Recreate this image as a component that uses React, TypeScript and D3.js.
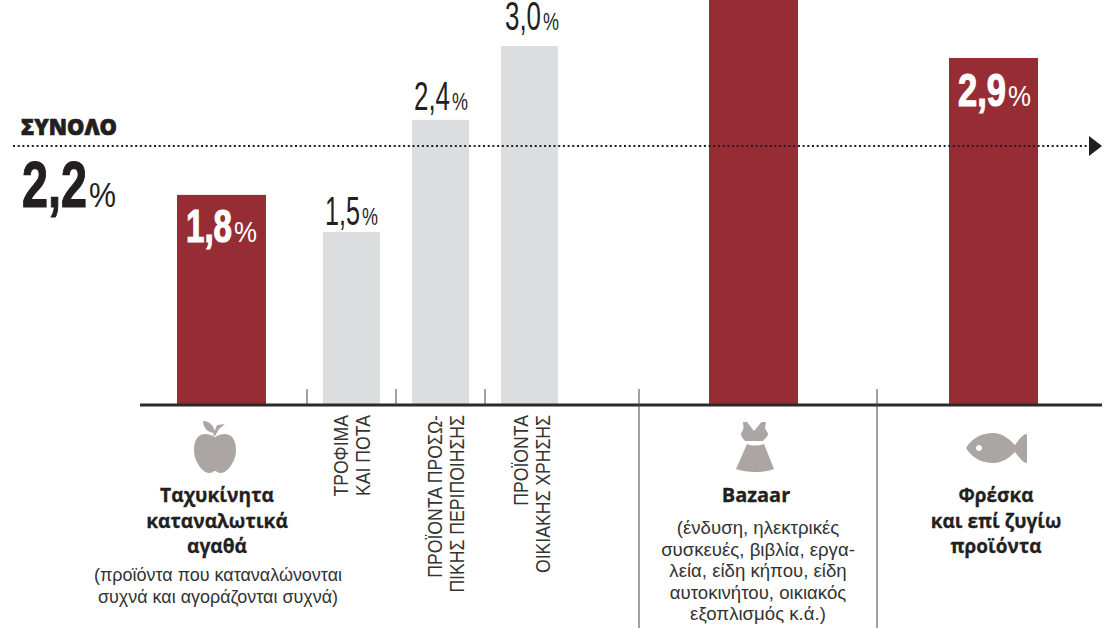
import React from "react";
import * as d3 from "d3";

// Data
const categories = ["fast", "food", "personal", "home", "bazaar", "fresh"];
const barValues = [1.756, 1.446, 2.383, 3.0, 3.5, 2.9];
const barLabels = ["1,8", "1,5", "2,4", "3,0", "", "2,9"];
const highlighted = [true, false, false, false, true, true];
const totalValue = 2.165;
const totalLabel = "2,2";
const totalTitle = "ΣΥΝΟΛΟ";
const rotatedLabels: Record<string, string[]> = {
  food: ["ΤΡΟΦΙΜΑ", "ΚΑΙ ΠΟΤΑ"],
  personal: ["ΠΡΟΪΟΝΤΑ ΠΡΟΣΩ-", "ΠΙΚΗΣ ΠΕΡΙΠΟΙΗΣΗΣ"],
  home: ["ΠΡΟΪΟΝΤΑ", "ΟΙΚΙΑΚΗΣ ΧΡΗΣΗΣ"],
};
const fastTitle = ["Ταχυκίνητα", "καταναλωτικά", "αγαθά"];
const fastNote = ["(προϊόντα που καταναλώνονται", "συχνά και αγοράζονται συχνά)"];
const bazaarTitle = ["Bazaar"];
const bazaarNote = ["(ένδυση, ηλεκτρικές", "συσκευές, βιβλία, εργα-", "λεία, είδη κήπου, είδη", "αυτοκινήτου, οικιακός", "εξοπλισμός κ.ά.)"];
const freshTitle = ["Φρέσκα", "και επί ζυγίω", "προϊόντα"];

// Layout
const W = 1113, H = 628;
const baseY = 405;
const RED = "#962d35", GREY = "#dcddde", INK = "#231f20", ICON = "#aba6a3";
const PLAIN = "'Liberation Sans',sans-serif";
const SANS = "'Open Sans','Noto Sans',sans-serif";
const y = d3.scaleLinear().domain([0, 3]).range([baseY, 46]);
const x = d3.scaleOrdinal<string, number>().domain(categories).range([221.5, 351.5, 440.5, 529.5, 753.5, 993.5]);
const widths = d3.scaleOrdinal<string, number>().domain(categories).range([89, 57, 57, 57, 89, 89]);

function Pct({ x0, base, num, numW, pctW, size, pctSize, fill, bold }: any) {
  const sn = numW / (1.39 * size);
  const sp = pctW / (0.889 * pctSize);
  return (
    <g fill={fill}>
      <text transform={`translate(${x0},${base}) scale(${sn},1)`} fontFamily={PLAIN} fontWeight={bold ? 700 : 400} fontSize={size}
        stroke={bold ? fill : "none"} strokeWidth={bold ? 1.2 : 0}>{num}</text>
      <text transform={`translate(${x0 + numW + 2},${base}) scale(${sp},1)`} fontFamily={PLAIN} fontSize={pctSize}>%</text>
    </g>
  );
}

function Lines({ lines, cx, first, step, size, weight, family, fill, sx = 1, stroke = 0 }: any) {
  return (
    <g>
      {lines.map((l: string, i: number) => (
        <text key={i} transform={`translate(${cx},${first + i * step}) scale(${sx},1)`} textAnchor="middle"
          fontFamily={family} fontSize={size} fontWeight={weight} fill={fill}
          stroke={stroke ? fill : "none"} strokeWidth={stroke}>{l}</text>
      ))}
    </g>
  );
}

export default function App() {
  const rows = categories.map((c, i) => ({ c, v: barValues[i], hi: highlighted[i] }));
  const line = d3.line<number>().x(d => d).y(() => y(totalValue));
  return (
    <svg width={W} height={H} viewBox={`0 0 ${W} ${H}`} style={{ position: "absolute", left: 0, top: 0, display: "block", background: "#fff" }}>
      {rows.map(r => {
        const w = widths(r.c);
        return <rect key={r.c} x={x(r.c) - w / 2} y={y(r.v)} width={w} height={baseY - y(r.v)} fill={r.hi ? RED : GREY} />;
      })}

      {/* total line */}
      <path d={line([13, 1090]) as string} fill="none" stroke={INK} strokeWidth={2} strokeDasharray="2 2.7" />
      <path d={`M1089,${y(totalValue) - 10}L1102,${y(totalValue)}L1089,${y(totalValue) + 10}Z`} fill={INK} />

      {/* axis + separators */}
      <line x1={140} x2={1102} y1={baseY} y2={baseY} stroke="#2b2a29" strokeWidth={3} />
      {[307, 396, 485].map(t => <line key={t} x1={t} x2={t} y1={389} y2={baseY} stroke="#444" strokeWidth={1} />)}
      {[639, 877].map(t => <line key={t} x1={t} x2={t} y1={389} y2={H} stroke="#444" strokeWidth={1} />)}

      {/* total labels */}
      <text x={21} y={135} fontFamily={SANS} fontWeight={800} fontSize={23} fill={INK} stroke={INK} strokeWidth={0.7} textLength={96} lengthAdjust="spacingAndGlyphs">{totalTitle}</text>
      <Pct x0={22} base={207} num={totalLabel} numW={65} pctW={27} size={65} pctSize={36} fill={INK} bold />

      {/* bar labels */}
      <Pct x0={186} base={242} num={barLabels[0]} numW={46} pctW={23} size={46} pctSize={29} fill="#fff" bold />
      <Pct x0={325} base={225} num={barLabels[1]} numW={35} pctW={16} size={40} pctSize={24} fill={INK} />
      <Pct x0={414} base={110} num={barLabels[2]} numW={36} pctW={16} size={40} pctSize={24} fill={INK} />
      <Pct x0={505} base={30} num={barLabels[3]} numW={36} pctW={16} size={40} pctSize={24} fill={INK} />
      <Pct x0={958} base={106} num={barLabels[5]} numW={48} pctW={23} size={46} pctSize={29} fill="#fff" bold />

      {/* rotated labels */}
      {Object.entries(rotatedLabels).map(([k, ls]) => ls.map((l, i) => {
        const bx = x(k) + (k === "food" ? -3.5 : k === "personal" ? 1.5 : -1.5) + i * 21.5;
        return (
          <text key={l} transform={`translate(${bx},415) rotate(-90) scale(0.84,1)`} textAnchor="end" fontFamily={PLAIN} fontSize={21} fill="#333">{l}</text>
        );
      }))}

      {/* titles and notes */}
      <Lines lines={fastTitle} cx={217} first={502} step={25.5} size={20} weight={700} family={SANS} fill={INK} sx={0.96} stroke={0.3} />
      <Lines lines={fastNote} cx={218} first={581} step={22} size={19} weight={400} family={PLAIN} fill="#333" sx={0.945} />
      <Lines lines={bazaarTitle} cx={756} first={502} step={25.5} size={20} weight={700} family={SANS} fill={INK} stroke={0.3} />
      <Lines lines={bazaarNote} cx={758} first={534} step={21.6} size={19} weight={400} family={PLAIN} fill="#333" sx={0.98} />
      <Lines lines={freshTitle} cx={996} first={502} step={25.5} size={20} weight={700} family={SANS} fill={INK} sx={0.95} stroke={0.3} />

      {/* icons */}
      <g fill={ICON}>
        <path d="M215,437C205,431 194,433 194,450C194,462 203,473 209,473C212,473 214,471 215,471C216,471 218,473 221,473C227,473 236,462 236,450C236,433 225,431 215,437Z" />
        <path d="M203,421C209,421 214,425 215,433C208,433 203,428 203,421Z" />
        <path d="M213,435L217,425L225,424L219,429L215,436Z" />
        <path d="M743,422L747,422L754,431L761.5,422L766,422L765,428C766,431 768,432 768,434C768,437 764,439 763,441L745,441C744,439 741,437 741,434C741,432 743,431 743.5,428Z" />
        <path d="M747,444C752,446 758,446 764,444L774,469C763,473 747,473 736,469Z" />
        <path fillRule="evenodd" d="M966,448C972,438 982,433 993,433C1003,433 1010,440 1015,445C1018,441 1022,435 1026,434C1027,434 1027,435 1027,436L1027,461C1027,462 1027,463 1026,463C1022,462 1018,456 1015,452C1010,457 1003,463 993,463C982,463 972,458 966,448ZM979,445a3,3 0 1,0 0.01,0Z" />
      </g>
    </svg>
  );
}
